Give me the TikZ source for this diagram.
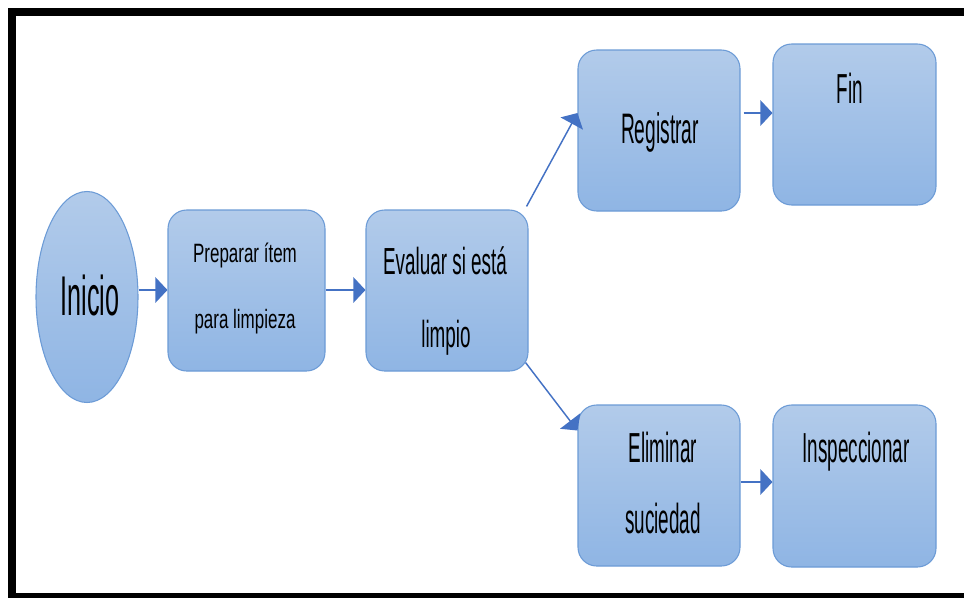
\documentclass[tikz,border=0pt]{standalone}
\usepackage{fontspec}
\setmainfont{Liberation Sans}
% condensed cuts of the same face
\newfontfamily\narrowA[FakeStretch=0.45]{Liberation Sans}
\newfontfamily\narrowB[FakeStretch=0.50]{Liberation Sans}
\newfontfamily\narrowC[FakeStretch=0.64]{Liberation Sans}
\usetikzlibrary{arrows.meta,shapes.geometric,fit,calc}

\definecolor{boxtop}{RGB}{178,203,234}
\definecolor{boxbot}{RGB}{143,181,228}
\definecolor{boxline}{RGB}{108,155,214}
\definecolor{arrowblue}{RGB}{68,114,196}

\tikzset{
  box/.style={draw=boxline, line width=0.8pt, rounded corners=14pt,
    top color=boxtop, bottom color=boxbot, inner sep=0pt},
  startshape/.style={ellipse, draw=boxline, line width=0.8pt,
    top color=boxtop, bottom color=boxbot, inner sep=0pt,
    minimum width=76.5pt, minimum height=158.25pt},
  flow/.style={draw=arrowblue, line width=1.1pt,
    -{Triangle[length=9pt,width=19pt]}},
  txt/.style={anchor=base, inner sep=0pt, text=black},
  frame/.style={draw=black, line width=6pt}
}

\begin{document}
\begin{tikzpicture}[x=0.75pt, y=-0.75pt]
  \useasboundingbox (0,0) rectangle (964,597);
  \clip (0,0) rectangle (964,597);

  % outer frame
  \draw[frame] (12,12) rectangle (980,597);

  % shapes
  \node[startshape] (inicio) at (87,297) {};
  \node[box, fit={(168,210) (325,371)}] (prep) {};
  \node[box, fit={(366,210) (528,371)}] (eval) {};
  \node[box, fit={(578,50) (740,211)}] (reg) {};
  \node[box, fit={(773,44) (936,205)}] (fin) {};
  \node[box, fit={(578,405) (740,566)}] (elim) {};
  \node[box, fit={(773,405) (936,567)}] (insp) {};

  % texts
  \node[txt, font={\narrowA\fontsize{42pt}{42pt}\selectfont}] (tinicio) at (90,315) {Inicio};
  \node[txt, font={\narrowC\fontsize{19.9pt}{20pt}\selectfont}] (tprep1) at (245,262) {Preparar ítem};
  \node[txt, font={\narrowC\fontsize{19.9pt}{20pt}\selectfont}] (tprep2) at (245,328) {para limpieza};
  \node[txt, font={\narrowB\fontsize{28.3pt}{28pt}\selectfont}] (teval1) at (445,274) {Evaluar si está};
  \node[txt, font={\narrowB\fontsize{28.3pt}{28pt}\selectfont}] (teval2) at (446,347) {limpio};
  \node[txt, font={\narrowA\fontsize{32pt}{32pt}\selectfont}] (treg) at (660,143) {Registrar};
  \node[txt, font={\narrowA\fontsize{31.5pt}{32pt}\selectfont}] (tfin) at (850,103) {Fin};
  \node[txt, font={\narrowA\fontsize{31.5pt}{32pt}\selectfont}] (telim1) at (663,462) {Eliminar};
  \node[txt, font={\narrowA\fontsize{31.5pt}{32pt}\selectfont}] (telim2) at (663,533) {suciedad};
  \node[txt, font={\narrowA\fontsize{31.5pt}{32pt}\selectfont}] (tinsp) at (856,462) {Inspeccionar};

  % connectors
  \coordinate (rowmid) at (0,290);
  \coordinate (rowtop) at (0,113);
  \coordinate (rowbot) at (0,482);
  \draw[flow] (inicio.east |- rowmid) -- (prep.west |- rowmid);
  \draw[flow] (prep.east |- rowmid) -- (eval.west |- rowmid);
  \draw[flow] ($(eval.north east)+(-2,-3)$) -- (reg.west |- rowtop);
  \draw[flow] ($(eval.south east)+(-3,-9)$) -- ($(elim.west)+(0,-55)$);
  \draw[flow] ($(reg.east |- rowtop)+(3,0)$) -- (fin.west |- rowtop);
  \draw[flow] (elim.east |- rowbot) -- (insp.west |- rowbot);
\end{tikzpicture}
\end{document}
